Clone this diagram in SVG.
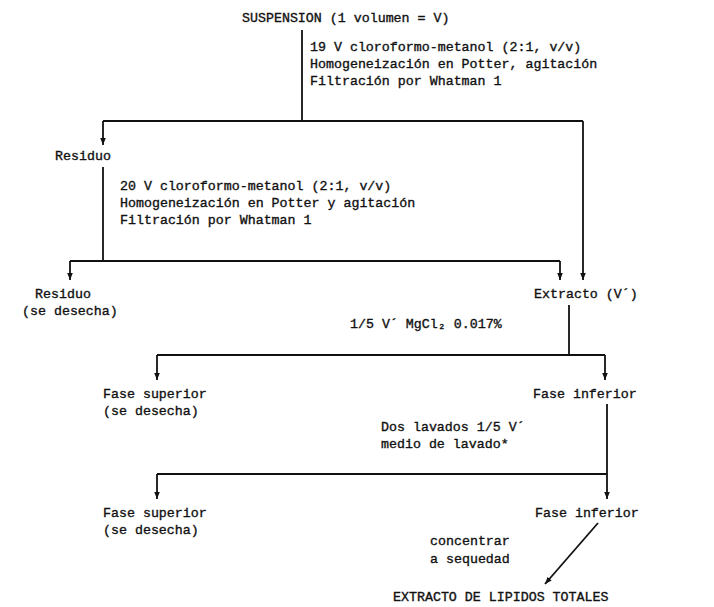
<svg xmlns="http://www.w3.org/2000/svg" width="714" height="607" viewBox="0 0 714 607">
<style>
text{font-family:"Liberation Mono","DejaVu Sans Mono",monospace;font-size:13.3px;fill:#111;stroke:#111;stroke-width:0.35;}
.c{fill:none;stroke:#111;stroke-width:1.8;}
</style>
<defs>
<marker id="ah" viewBox="0 0 10 10" refX="10" refY="5" markerWidth="9" markerHeight="7" markerUnits="userSpaceOnUse" orient="auto">
<path d="M0,1 L10,5 L0,9 Z" fill="#111"/>
</marker>
</defs>
<rect width="714" height="607" fill="#fff"/>
<g id="connectors">
<path class="c" d="M302,30 V121"/>
<path class="c" d="M103,121 H583"/>
<path class="c" d="M103,121 V145" marker-end="url(#ah)"/>
<path class="c" d="M583,121 V280" marker-end="url(#ah)"/>
<path class="c" d="M103,167 V261"/>
<path class="c" d="M70,261 H560"/>
<path class="c" d="M70,261 V280" marker-end="url(#ah)"/>
<path class="c" d="M560,261 V280" marker-end="url(#ah)"/>
<path class="c" d="M569,305 V355"/>
<path class="c" d="M157,355 H605"/>
<path class="c" d="M157,355 V380" marker-end="url(#ah)"/>
<path class="c" d="M605,355 V380" marker-end="url(#ah)"/>
<path class="c" d="M607,404 V474"/>
<path class="c" d="M157,474 H607"/>
<path class="c" d="M157,474 V499" marker-end="url(#ah)"/>
<path class="c" d="M607,474 V499" marker-end="url(#ah)"/>
<path class="c" d="M598,523 L545,584" marker-end="url(#ah)"/>
</g>
<g id="suspension"><text x="242" y="22">SUSPENSION (1 volumen = V)</text></g>
<g id="step1"><text x="310" y="51">19 V cloroformo-metanol (2:1, v/v)</text><text x="310" y="68">Homogeneización en Potter, agitación</text><text x="310" y="85">Filtración por Whatman 1</text></g>
<g id="residuo1"><text x="55" y="160">Residuo</text></g>
<g id="step2"><text x="120" y="190">20 V cloroformo-metanol (2:1, v/v)</text><text x="120" y="207">Homogeneización en Potter y agitación</text><text x="120" y="224">Filtración por Whatman 1</text></g>
<g id="residuo2"><text x="35" y="298">Residuo</text><text x="22" y="315">(se desecha)</text></g>
<g id="extracto"><text x="534" y="298">Extracto (V´)</text></g>
<g id="step3"><text x="350" y="328">1/5 V´ MgCl₂ 0.017%</text></g>
<g id="fase-sup1"><text x="103" y="398">Fase superior</text><text x="103" y="415">(se desecha)</text></g>
<g id="fase-inf1"><text x="533" y="398">Fase inferior</text></g>
<g id="step4"><text x="381" y="431">Dos lavados 1/5 V´</text><text x="381" y="448">medio de lavado*</text></g>
<g id="fase-sup2"><text x="103" y="517">Fase superior</text><text x="103" y="534">(se desecha)</text></g>
<g id="fase-inf2"><text x="535" y="517">Fase inferior</text></g>
<g id="step5"><text x="430" y="545">concentrar</text><text x="430" y="563">a sequedad</text></g>
<g id="total"><text x="393" y="601">EXTRACTO DE LIPIDOS TOTALES</text></g>
</svg>
